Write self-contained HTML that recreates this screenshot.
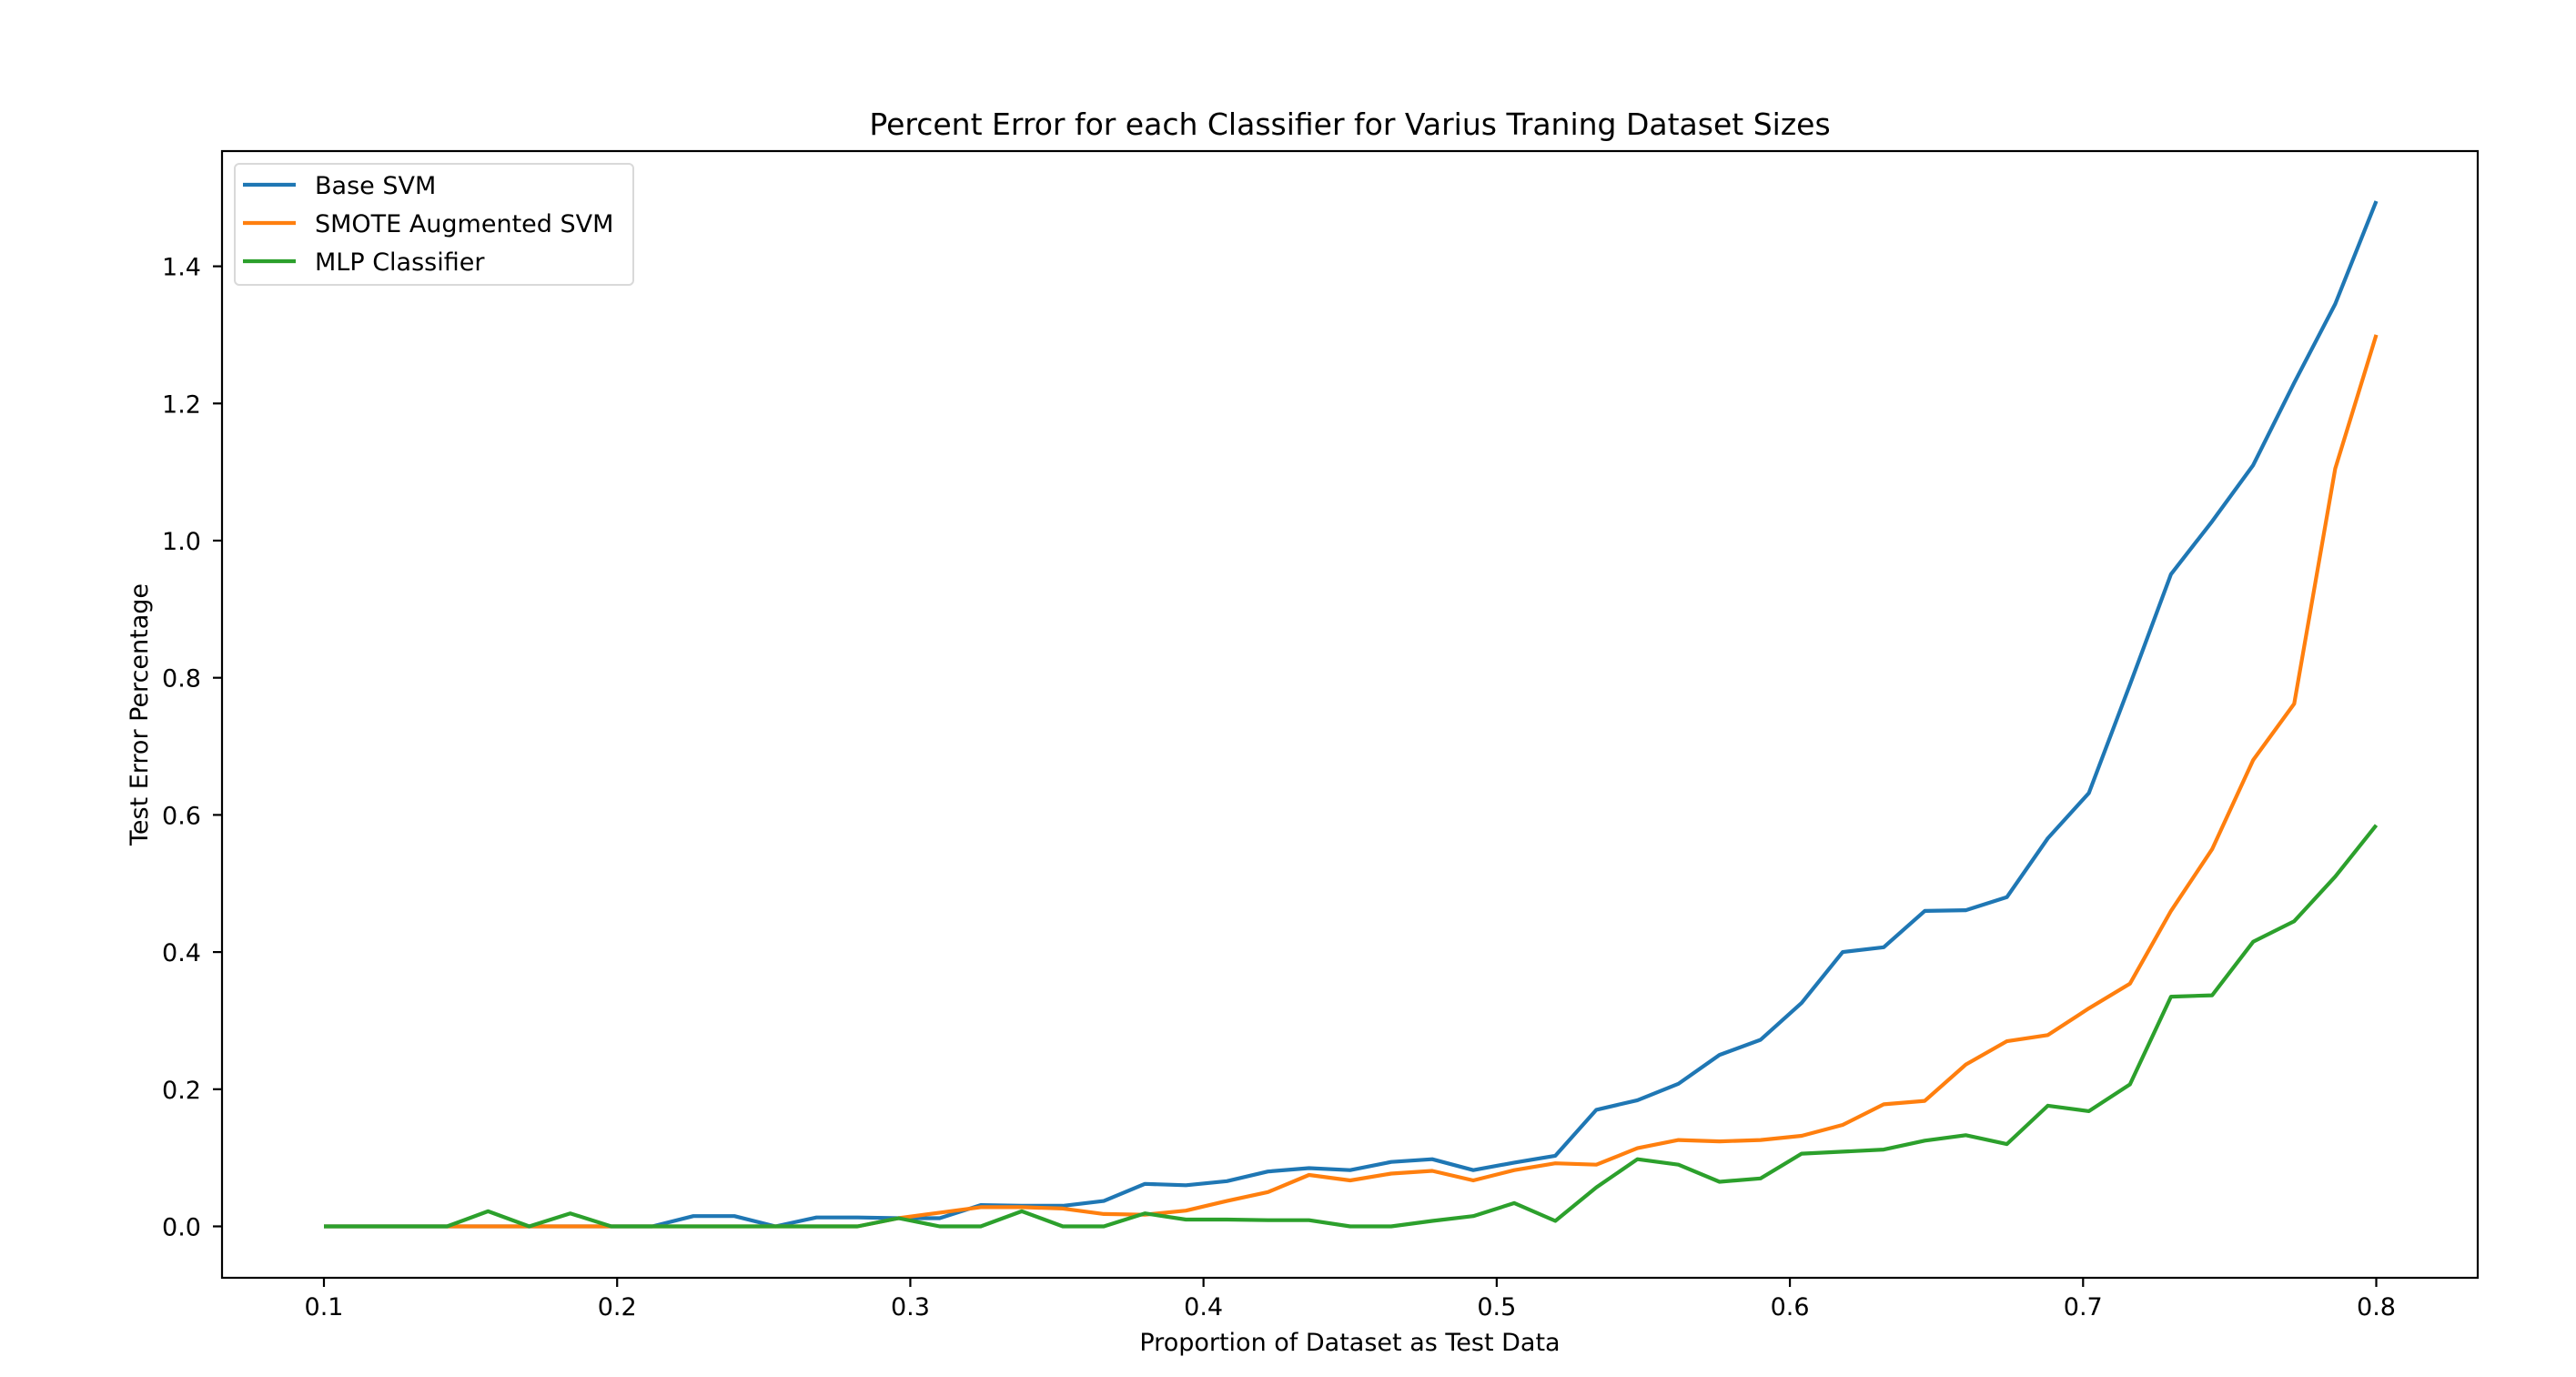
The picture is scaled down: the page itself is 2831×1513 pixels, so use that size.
<!DOCTYPE html>
<html><head><meta charset="utf-8"><style>
html,body{margin:0;padding:0;background:#fff}
svg{display:block;font-family:"DejaVu Sans","Liberation Sans",sans-serif}
</style></head><body>
<svg width="2831" height="1513" viewBox="0 0 2831 1513">
<g id="plot"></g>
</svg>
<script>
const xs = Array.from({length:51},(_,i)=>+(0.1+i*0.014).toFixed(3));
const baseSvm = [0,0,0,0,0,0,0,0,0,0.015,0.015,0,0.013,0.013,0.012,0.012,0.031,0.03,0.03,0.037,0.062,0.06,0.066,0.08,0.085,0.082,0.094,0.098,0.082,0.093,0.103,0.17,0.184,0.208,0.25,0.272,0.326,0.4,0.407,0.46,0.461,0.48,0.566,0.632,0.79,0.951,1.028,1.11,1.23,1.345,1.495];
const smoteSvm = [0,0,0,0,0,0,0,0,0,0,0,0,0,0,0.012,0.02,0.028,0.028,0.026,0.018,0.017,0.023,0.037,0.05,0.075,0.067,0.077,0.081,0.067,0.082,0.092,0.09,0.114,0.126,0.124,0.126,0.132,0.148,0.178,0.183,0.236,0.27,0.279,0.318,0.354,0.46,0.55,0.68,0.762,1.105,1.3];
const mlp = [0,0,0,0,0.022,0,0.019,0,0,0,0,0,0,0,0.012,0,0,0.022,0,0,0.019,0.01,0.01,0.009,0.009,0,0,0.008,0.015,0.034,0.008,0.057,0.098,0.09,0.065,0.07,0.106,0.109,0.112,0.125,0.133,0.12,0.176,0.168,0.207,0.335,0.337,0.415,0.445,0.51,0.585];
const xTicks = [0.1,0.2,0.3,0.4,0.5,0.6,0.7,0.8];
const yTicks = [0.0,0.2,0.4,0.6,0.8,1.0,1.2,1.4];
const seriesNames = ["Base SVM","SMOTE Augmented SVM","MLP Classifier"];
const colors = ["#1f77b4","#ff7f0e","#2ca02c"];

const L=244,R=2723,T=166,B=1404;
const X=v=>356+(v-0.1)*(2611.5-356)/0.7;
const Y=v=>1347.5-v*(1347.5-292.6)/1.4;
const NS="http://www.w3.org/2000/svg";
const g=document.getElementById('plot');
function mk(tag,attrs,parent){const e=document.createElementNS(NS,tag);for(const k in attrs)e.setAttribute(k,attrs[k]);(parent||g).appendChild(e);return e;}

const title=mk('text',{x:(L+R)/2,y:148,'text-anchor':'middle','font-size':33,fill:'#000'});


title.textContent='Percent Error for each Classifier for Varius Traning Dataset Sizes';

[[baseSvm,0],[smoteSvm,1],[mlp,2]].forEach(([d,i])=>{
  const p=mk('polyline',{points:d.map((v,j)=>X(xs[j]).toFixed(1)+','+Y(v).toFixed(1)).join(' '),fill:'none',stroke:colors[i],'stroke-width':4.2,'stroke-linejoin':'round'});
  
  
});

const frame=mk('rect',{x:L,y:T,width:R-L,height:B-T,fill:'none',stroke:'#000','stroke-width':2.2});



xTicks.forEach(v=>{
  const x=X(v);
  const t=mk('line',{x1:x,x2:x,y1:B,y2:B+10,stroke:'#000','stroke-width':2.2});
  
  
  const l=mk('text',{x:x,y:1445,'text-anchor':'middle','font-size':27,fill:'#000'});
  
  
  l.textContent=v.toFixed(1);
});
yTicks.forEach(v=>{
  const y=Y(v);
  const t=mk('line',{x1:L-10,x2:L,y1:y,y2:y,stroke:'#000','stroke-width':2.2});
  
  
  const l=mk('text',{x:221,y:y+10,'text-anchor':'end','font-size':27,fill:'#000'});
  
  
  l.textContent=v.toFixed(1);
});

const xl=mk('text',{x:(L+R)/2,y:1484,'text-anchor':'middle','font-size':27,fill:'#000'});


xl.textContent='Proportion of Dataset as Test Data';
const yl=mk('text',{x:0,y:0,'text-anchor':'middle','font-size':27,fill:'#000',transform:'translate(162,785) rotate(-90)'});


yl.textContent='Test Error Percentage';

const lg=mk('g',{});


mk('rect',{x:258,y:180,width:438,height:133,rx:5,fill:'#fff','fill-opacity':0.8,stroke:'#d9d9d9','stroke-width':2},lg);
seriesNames.forEach((n,i)=>{
  const y=203+i*42;
  const e=mk('g',{},lg);
  
  
  mk('line',{x1:267,x2:325,y1:y,y2:y,stroke:colors[i],'stroke-width':4.2},e);
  const t=mk('text',{x:346,y:y+10,'font-size':27,fill:'#000'},e);
  t.textContent=n;
});
</script>
</body></html>
